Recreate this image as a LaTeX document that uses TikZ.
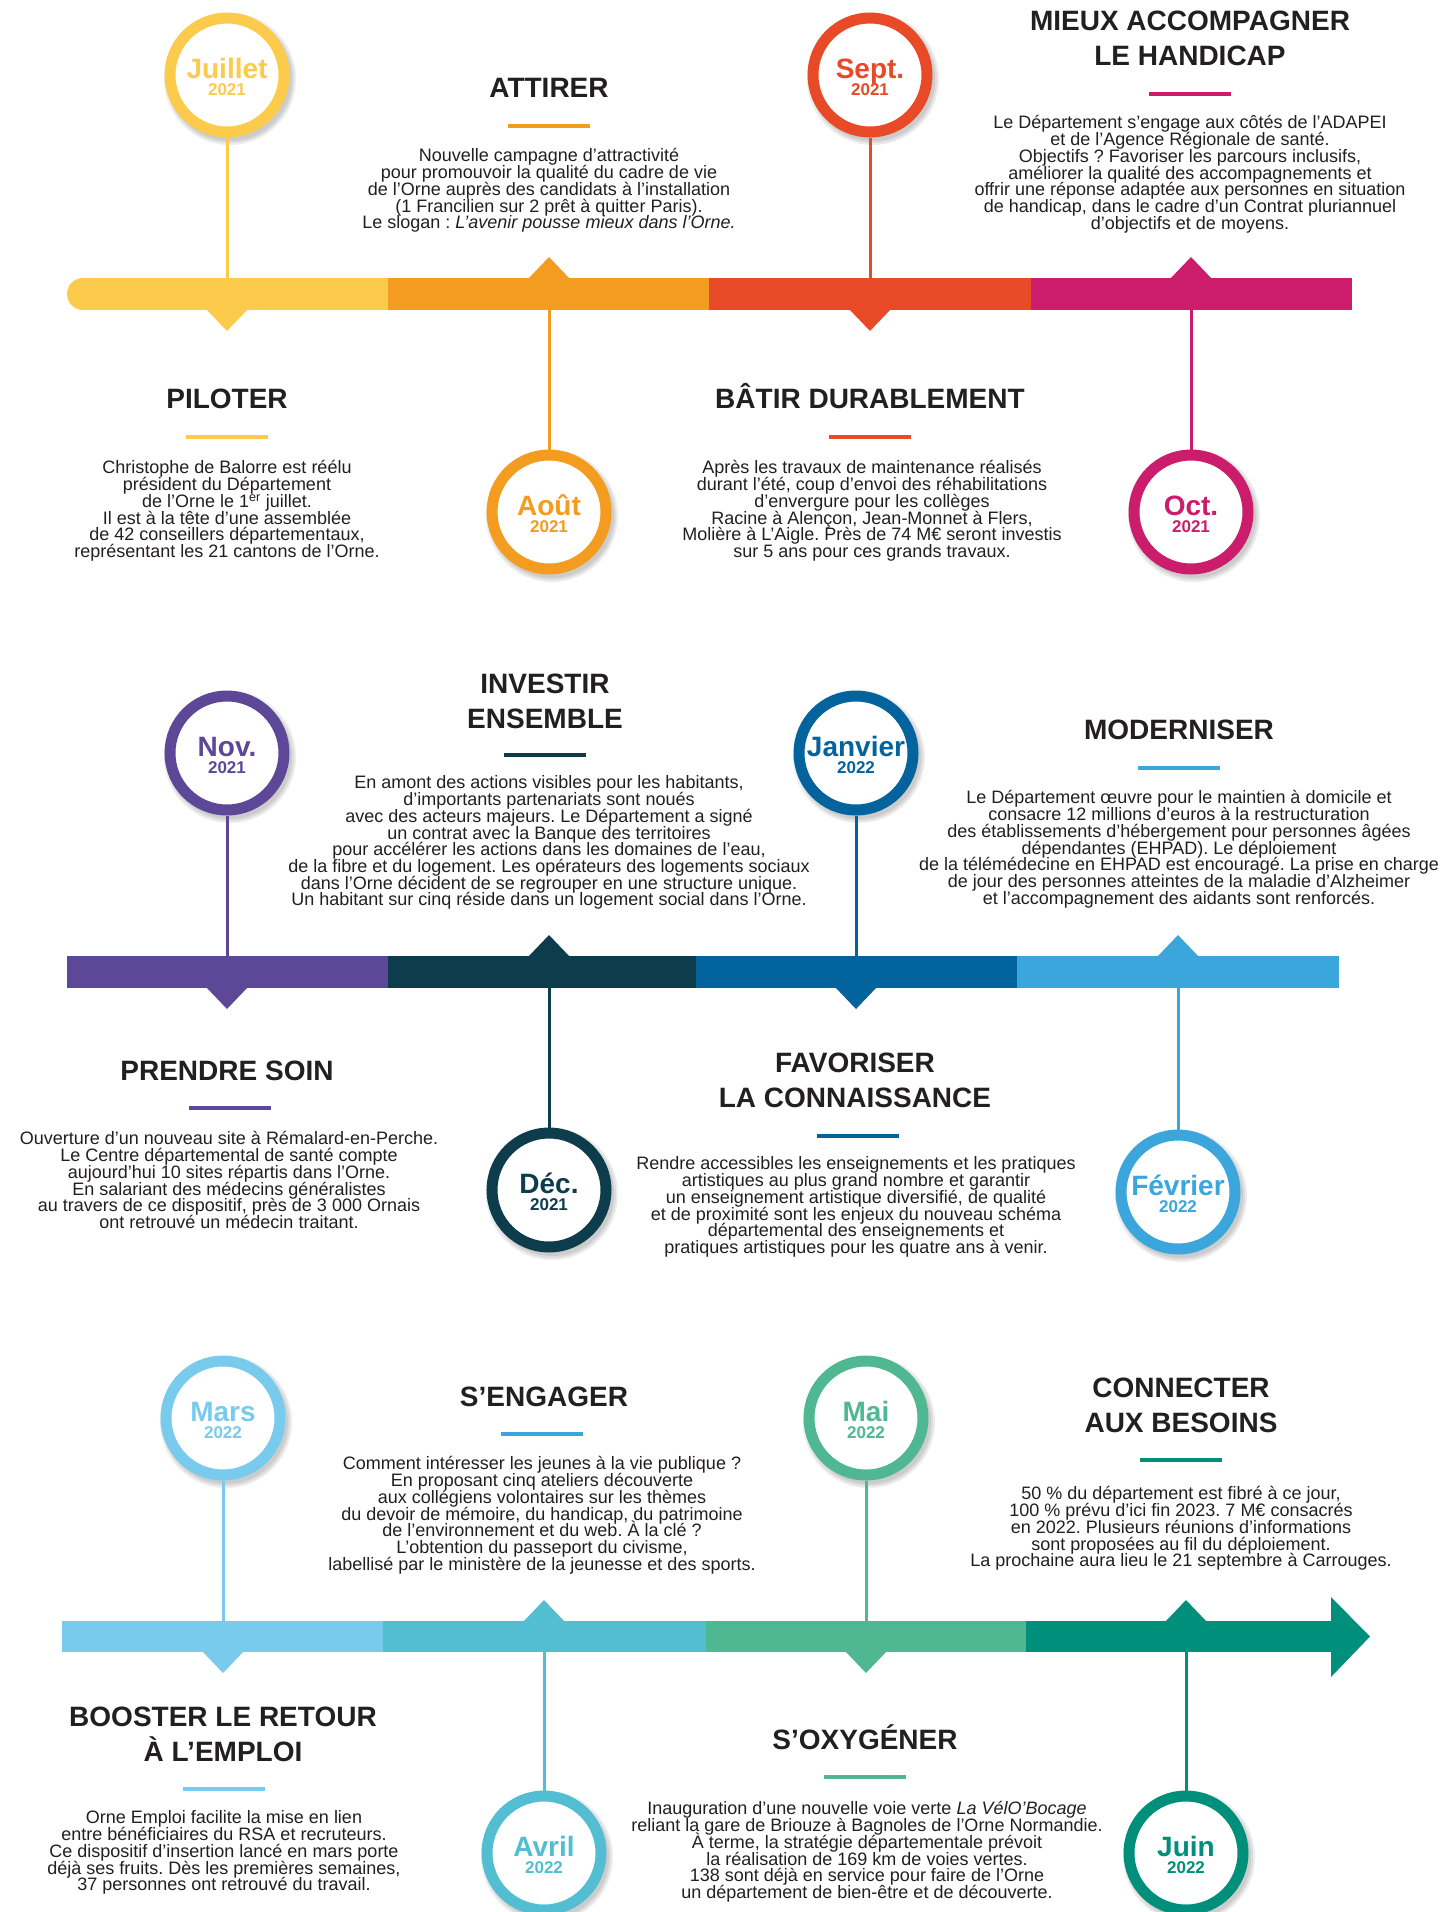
\documentclass[tikz,border=0pt]{standalone}
\usepackage{fontspec}
\setmainfont{Liberation Sans}
\lineskiplimit=-100pt
\lineskip=0pt
\frenchspacing
\definecolor{cYel}{HTML}{FDCB4C}
\definecolor{cOra}{HTML}{F39C1F}
\definecolor{cRed}{HTML}{E84A27}
\definecolor{cMag}{HTML}{CB1D6C}
\definecolor{cPur}{HTML}{5D4797}
\definecolor{cDkt}{HTML}{0D3D4D}
\definecolor{cBlu}{HTML}{02639D}
\definecolor{cLbl}{HTML}{3AA6DC}
\definecolor{cSky}{HTML}{79CBEE}
\definecolor{cTea}{HTML}{53BED2}
\definecolor{cGrn}{HTML}{50B793}
\definecolor{cDgr}{HTML}{008F7A}
\definecolor{txt}{HTML}{231F20}
\newcommand\ulin[3]{\fill[#1] (#2-41,#3-2) rectangle (#2+41,#3+2);}
\newcommand\tstrut{\rule{0pt}{26pt}}
\newcommand\bstrut{\rule{0pt}{15pt}}
\begin{document}
\begin{tikzpicture}[x=1pt,y=-1pt,
  ttl/.style={font=\bfseries\fontsize{28}{35}\selectfont,align=center,text=txt,inner sep=0pt,anchor=north},
  bod/.style={font=\fontsize{18}{16.7}\selectfont,align=center,text=txt,inner sep=0pt,anchor=north},
  datering/.style={circle,draw=#1,line width=11pt,fill=white,minimum size=114pt,inner sep=0pt},
  monthf/.style={font=\bfseries\fontsize{28}{28}\selectfont,text=#1,inner sep=0pt,anchor=base},
  yearf/.style={font=\bfseries\fontsize{17}{17}\selectfont,text=#1,inner sep=0pt,anchor=base},
  stemline/.style={draw=#1,line width=3pt},
]
\useasboundingbox (0,0) rectangle (1442,1912);
\fill[white] (0,0) rectangle (1442,1912);

% ---- row 1 bar
\fill[cYel] (82,278) rectangle (388.5,310);
\fill[cYel] (83,294) circle (16);
\fill[cOra] (388,278) rectangle (709.5,310);
\fill[cRed] (709,278) rectangle (1031.5,310);
\fill[cMag] (1031,278) rectangle (1352,310);
\fill[cYel] (206,309) -- (248,309) -- (227,331) -- cycle;
\fill[cOra] (528,279) -- (570,279) -- (549,257) -- cycle;
\fill[cRed] (849,309) -- (891,309) -- (870,331) -- cycle;
\fill[cMag] (1170,279) -- (1212,279) -- (1191,257) -- cycle;

% ---- row 2 bar
\fill[cPur] (67,956) rectangle (388.5,988);
\fill[cDkt] (388,956) rectangle (696.5,988);
\fill[cBlu] (696,956) rectangle (1017.5,988);
\fill[cLbl] (1017,956) rectangle (1339,988);
\fill[cPur] (206,987) -- (248,987) -- (227,1009) -- cycle;
\fill[cDkt] (528,957) -- (570,957) -- (549,935) -- cycle;
\fill[cBlu] (835,987) -- (877,987) -- (856,1009) -- cycle;
\fill[cLbl] (1157,957) -- (1199,957) -- (1178,935) -- cycle;

% ---- row 3 bar with arrow
\fill[cSky] (62,1621) rectangle (383.5,1652);
\fill[cTea] (383,1621) rectangle (706.5,1652);
\fill[cGrn] (706,1621) rectangle (1026.5,1652);
\fill[cDgr] (1026,1621) rectangle (1332,1652);
\fill[cDgr] (1331,1597) -- (1370,1636.5) -- (1331,1677) -- cycle;
\fill[cSky] (202,1651) -- (244,1651) -- (223,1673) -- cycle;
\fill[cTea] (523,1622) -- (565,1622) -- (544,1600) -- cycle;
\fill[cGrn] (845,1651) -- (887,1651) -- (866,1673) -- cycle;
\fill[cDgr] (1165,1622) -- (1207,1622) -- (1186,1600) -- cycle;

% ---- date circles
\foreach \n/\x/\y/\cc/\m/\yy/\by in {
 jul/227/75/cYel/Juillet/2021/278,
 aou/549/512/cOra/Août/2021/310,
 sep/870/75/cRed/Sept./2021/278,
 oct/1191/512/cMag/Oct./2021/310,
 nov/227/753/cPur/Nov./2021/956,
 dec/549/1190/cDkt/Déc./2021/988,
 jan/856/753/cBlu/Janvier/2022/956,
 fev/1178/1192/cLbl/Février/2022/988,
 mar/223/1418/cSky/Mars/2022/1621,
 avr/544/1853/cTea/Avril/2022/1652,
 mai/866/1418/cGrn/Mai/2022/1621,
 jui/1186/1853/cDgr/Juin/2022/1652}
{
 \foreach \r in {66,64,62} \fill[black,opacity=.07] (\x+3,\y+4) circle (\r);
 \node[datering=\cc] (\n) at (\x,\y) {};
 \coordinate (\n-b) at (\x,\by);
 \draw[stemline=\cc] (\n) -- (\n-b);
 \node[monthf=\cc] (\n-m) at (\x,\y+3) {\m};
 \node[yearf=\cc] (\n-y) at (\x,\y+20) {\yy};
}

% ---- texts row 1
\node[ttl] (t-att) at (549,71) {\tstrut ATTIRER};
\ulin{cOra}{549}{126}
\node[bod] (b-att) at (549,146.7) {\bstrut Nouvelle campagne d’attractivité\\
pour promouvoir la qualité du cadre de vie\\
de l’Orne auprès des candidats à l’installation\\
(1 Francilien sur 2 prêt à quitter Paris).\\
Le slogan : \textit{L’avenir pousse mieux dans l’Orne.}};

\node[ttl] (t-mie) at (1190,4) {\tstrut MIEUX ACCOMPAGNER\\LE HANDICAP};
\ulin{cMag}{1190}{94}
\node[bod] (b-mie) at (1190,113.7) {\bstrut Le Département s’engage aux côtés de l’ADAPEI\\
et de l’Agence Régionale de santé.\\
Objectifs ? Favoriser les parcours inclusifs,\\
améliorer la qualité des accompagnements et\\
offrir une réponse adaptée aux personnes en situation\\
de handicap, dans le cadre d’un Contrat pluriannuel\\
d’objectifs et de moyens.};

\node[ttl] (t-pil) at (227,382) {\tstrut PILOTER};
\ulin{cYel}{227}{437}
\node[bod] (b-pil) at (227,458.7) {\bstrut Christophe de Balorre est réélu\\
président du Département\\
de l’Orne le 1\textsuperscript{er} juillet.\\
Il est à la tête d’une assemblée\\
de 42 conseillers départementaux,\\
représentant les 21 cantons de l’Orne.};

\node[ttl] (t-bat) at (870,382) {\tstrut BÂTIR DURABLEMENT};
\ulin{cRed}{870}{437}
\node[bod] (b-bat) at (872,458.7) {\bstrut Après les travaux de maintenance réalisés\\
durant l’été, coup d’envoi des réhabilitations\\
d’envergure pour les collèges\\
Racine à Alençon, Jean-Monnet à Flers,\\
Molière à L’Aigle. Près de 74 M€ seront investis\\
sur 5 ans pour ces grands travaux.};

% ---- texts row 2
\node[ttl] (t-inv) at (545,667) {\tstrut INVESTIR\\ENSEMBLE};
\ulin{cDkt}{545}{755}
\node[bod] (b-inv) at (549,773.7) {\bstrut En amont des actions visibles pour les habitants,\\
d’importants partenariats sont noués\\
avec des acteurs majeurs. Le Département a signé\\
un contrat avec la Banque des territoires\\
pour accélérer les actions dans les domaines de l’eau,\\
de la fibre et du logement. Les opérateurs des logements sociaux\\
dans l’Orne décident de se regrouper en une structure unique.\\
Un habitant sur cinq réside dans un logement social dans l’Orne.};

\node[ttl] (t-mod) at (1179,713) {\tstrut MODERNISER};
\ulin{cLbl}{1179}{768}
\node[bod] (b-mod) at (1179,788.7) {\bstrut Le Département œuvre pour le maintien à domicile et\\
consacre 12 millions d’euros à la restructuration\\
des établissements d’hébergement pour personnes âgées\\
dépendantes (EHPAD). Le déploiement\\
de la télémédecine en EHPAD est encouragé. La prise en charge\\
de jour des personnes atteintes de la maladie d'Alzheimer\\
et l’accompagnement des aidants sont renforcés.};

\node[ttl] (t-pre) at (227,1054) {\tstrut PRENDRE SOIN};
\ulin{cPur}{230}{1108}
\node[bod] (b-pre) at (229,1129.7) {\bstrut Ouverture d’un nouveau site à Rémalard-en-Perche.\\
Le Centre départemental de santé compte\\
aujourd’hui 10 sites répartis dans l’Orne.\\
En salariant des médecins généralistes\\
au travers de ce dispositif, près de 3~000 Ornais\\
ont retrouvé un médecin traitant.};

\node[ttl] (t-fav) at (855,1046) {\tstrut FAVORISER\\LA CONNAISSANCE};
\ulin{cBlu}{858}{1136}
\node[bod] (b-fav) at (856,1154.7) {\bstrut Rendre accessibles les enseignements et les pratiques\\
artistiques au plus grand nombre et garantir\\
un enseignement artistique diversifié, de qualité\\
et de proximité sont les enjeux du nouveau schéma\\
départemental des enseignements et\\
pratiques artistiques pour les quatre ans à venir.};

% ---- texts row 3
\node[ttl] (t-eng) at (544,1380) {\tstrut S’ENGAGER};
\ulin{cLbl}{542}{1434}
\node[bod] (b-eng) at (542,1454.7) {\bstrut Comment intéresser les jeunes à la vie publique ?\\
En proposant cinq ateliers découverte\\
aux collégiens volontaires sur les thèmes\\
du devoir de mémoire, du handicap, du patrimoine\\
de l’environnement et du web. À la clé ?\\
L’obtention du passeport du civisme,\\
labellisé par le ministère de la jeunesse et des sports.};

\node[ttl] (t-con) at (1181,1371) {\tstrut CONNECTER\\AUX BESOINS};
\ulin{cDgr}{1181}{1460}
\node[bod] (b-con) at (1181,1484.7) {\bstrut 50 \% du département est fibré à ce jour,\\
100 \% prévu d’ici fin 2023. 7 M€ consacrés\\
en 2022. Plusieurs réunions d’informations\\
sont proposées au fil du déploiement.\\
La prochaine aura lieu le 21 septembre à Carrouges.};

\node[ttl] (t-boo) at (223,1700) {\tstrut BOOSTER LE RETOUR\\À L’EMPLOI};
\ulin{cSky}{224}{1789}
\node[bod] (b-boo) at (224,1808.7) {\bstrut Orne Emploi facilite la mise en lien\\
entre bénéficiaires du RSA et recruteurs.\\
Ce dispositif d’insertion lancé en mars porte\\
déjà ses fruits. Dès les premières semaines,\\
37 personnes ont retrouvé du travail.};

\node[ttl] (t-oxy) at (865,1723) {\tstrut S’OXYGÉNER};
\ulin{cGrn}{865}{1777}
\node[bod] (b-oxy) at (867,1799.7) {\bstrut Inauguration d’une nouvelle voie verte \textit{La VélO’Bocage}\\
reliant la gare de Briouze à Bagnoles de l’Orne Normandie.\\
À terme, la stratégie départementale prévoit\\
la réalisation de 169 km de voies vertes.\\
138 sont déjà en service pour faire de l’Orne\\
un département de bien-être et de découverte.};
\end{tikzpicture}
\end{document}
